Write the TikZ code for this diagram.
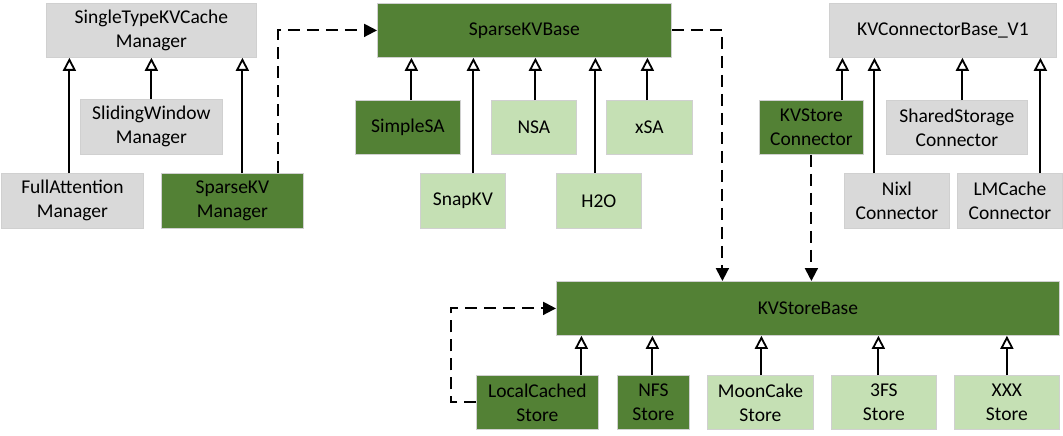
\documentclass[tikz,border=0pt]{standalone}
\usepackage{fontspec}
\setmainfont{Carlito}
\usetikzlibrary{arrows.meta,calc}
\definecolor{dkgreen}{HTML}{538135}
\definecolor{ltgreen}{HTML}{C5E0B4}
\definecolor{gboxc}{HTML}{D9D9D9}
\definecolor{edgec}{HTML}{D0D0D0}
\tikzset{
  basebox/.style={draw=edgec, line width=0.8pt, inner sep=0pt, align=center,
    font=\fontsize{19.5}{24}\selectfont, text=black},
  graybox/.style={basebox, fill=gboxc},
  darkbox/.style={basebox, fill=dkgreen},
  lightbox/.style={basebox, fill=ltgreen},
  inh/.style={line width=2pt, -{Triangle[open, width=13pt, length=13pt, line width=1.8pt]}},
  dep/.style={line width=2pt, dash pattern=on 12pt off 7pt, -{Triangle[width=13pt, length=13pt]}},
}
\begin{document}
\begin{tikzpicture}[x=1pt, y=-1pt]
\useasboundingbox (0,0) rectangle (1063,436);
% boxes
\node[graybox, minimum width=210pt, minimum height=54pt, anchor=north west] (stc) at (46,3) {SingleTypeKVCache\\Manager};
\node[graybox, minimum width=142pt, minimum height=55pt, anchor=north west] (sw) at (80,99) {SlidingWindow\\Manager};
\node[graybox, minimum width=142pt, minimum height=55pt, anchor=north west] (fa) at (1,173) {FullAttention\\Manager};
\node[darkbox, minimum width=142pt, minimum height=55pt, anchor=north west] (skm) at (161,173) {SparseKV\\Manager};
\node[darkbox, minimum width=294pt, minimum height=54pt, anchor=north west] (skb) at (377,3) {SparseKVBase};
\node[darkbox, minimum width=105pt, minimum height=54pt, anchor=north west] (ssa) at (355,100) {SimpleSA};
\node[lightbox, minimum width=85pt, minimum height=54pt, anchor=north west] (nsa) at (491,100) {NSA};
\node[lightbox, minimum width=86pt, minimum height=54pt, anchor=north west] (xsa) at (606,100) {xSA};
\node[lightbox, minimum width=85pt, minimum height=55pt, anchor=north west] (snap) at (420,173) {SnapKV};
\node[lightbox, minimum width=85pt, minimum height=55pt, anchor=north west] (h2o) at (556,173) {H2O};
\node[graybox, minimum width=227pt, minimum height=54pt, anchor=north west] (kcb) at (829,3) {KVConnectorBase\_V1};
\node[darkbox, minimum width=104pt, minimum height=54pt, anchor=north west] (ksc) at (759,100) {KVStore\\Connector};
\node[graybox, minimum width=141pt, minimum height=54pt, anchor=north west] (ssc) at (886,100) {SharedStorage\\Connector};
\node[graybox, minimum width=105pt, minimum height=55pt, anchor=north west] (nixl) at (844,173) {Nixl\\Connector};
\node[graybox, minimum width=105pt, minimum height=55pt, anchor=north west] (lmc) at (957,173) {LMCache\\Connector};
\node[darkbox, minimum width=503pt, minimum height=54pt, anchor=north west] (ksb) at (556,281) {KVStoreBase};
\node[darkbox, minimum width=122pt, minimum height=54pt, anchor=north west] (lcs) at (476,375) {LocalCached\\Store};
\node[darkbox, minimum width=72pt, minimum height=54pt, anchor=north west] (nfs) at (617,375) {NFS\\Store};
\node[lightbox, minimum width=106pt, minimum height=54pt, anchor=north west] (mc) at (707,375) {MoonCake\\Store};
\node[lightbox, minimum width=105pt, minimum height=54pt, anchor=north west] (tfs) at (831,375) {3FS\\Store};
\node[lightbox, minimum width=105pt, minimum height=54pt, anchor=north west] (xxx) at (954,375) {XXX\\Store};
% inheritance
\draw[inh] ([xshift=-3pt]fa.north) -- ([xshift=-3pt]fa.north |- stc.south);
\draw[inh] (sw.north) -- (sw.north |- stc.south);
\draw[inh] ([xshift=10pt]skm.north) -- ([xshift=10pt]skm.north |- stc.south);
\draw[inh] ([xshift=3.5pt]ssa.north) -- ([xshift=3.5pt]ssa.north |- skb.south);
\draw[inh] ([xshift=10.5pt]snap.north) -- ([xshift=10.5pt]snap.north |- skb.south);
\draw[inh] ([xshift=1.5pt]nsa.north) -- ([xshift=1.5pt]nsa.north |- skb.south);
\draw[inh] ([xshift=-3.5pt]h2o.north) -- ([xshift=-3.5pt]h2o.north |- skb.south);
\draw[inh] ([xshift=-2pt]xsa.north) -- ([xshift=-2pt]xsa.north |- skb.south);
\draw[inh] ([xshift=31pt]ksc.north) -- ([xshift=31pt]ksc.north |- kcb.south);
\draw[inh] ([xshift=-22.5pt]nixl.north) -- ([xshift=-22.5pt]nixl.north |- kcb.south);
\draw[inh] ([xshift=5.5pt]ssc.north) -- ([xshift=5.5pt]ssc.north |- kcb.south);
\draw[inh] ([xshift=30.5pt]lmc.north) -- ([xshift=30.5pt]lmc.north |- kcb.south);
\draw[inh] ([xshift=44pt]lcs.north) -- ([xshift=44pt]lcs.north |- ksb.south);
\draw[inh] ([xshift=-1pt]nfs.north) -- ([xshift=-1pt]nfs.north |- ksb.south);
\draw[inh] ([xshift=1pt]mc.north) -- ([xshift=1pt]mc.north |- ksb.south);
\draw[inh] ([xshift=-5.5pt]tfs.north) -- ([xshift=-5.5pt]tfs.north |- ksb.south);
\draw[inh] (xxx.north) -- (xxx.north |- ksb.south);
% dependencies
\draw[dep] ([xshift=46pt]skm.north) |- (skb.west);
\draw[dep] (skb.east) -| ([xshift=-85.5pt]ksb.north);
\draw[dep] (ksc.south) -- (ksc.south |- ksb.north);
\draw[dep] (lcs.west) -- ++(-25,0) |- (ksb.west);
\end{tikzpicture}
\end{document}
